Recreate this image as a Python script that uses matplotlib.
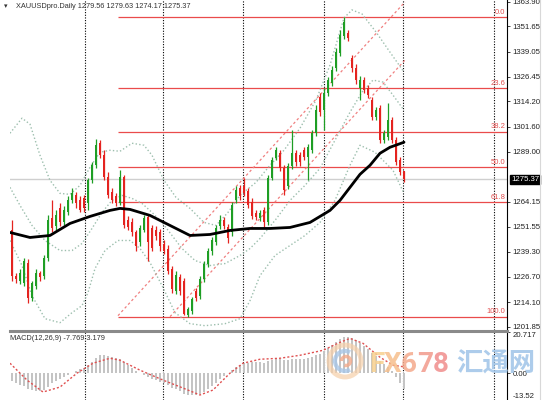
import numpy as np
import matplotlib.pyplot as plt
from matplotlib.lines import Line2D
from matplotlib.patches import Circle, Arc

plt.rcParams['font.family'] = ['Liberation Sans', 'DejaVu Sans']

# daily candles (XAUUSD)
opens = [1249.8, 1227.3, 1224.8, 1223.8, 1233.8, 1216.3, 1222.3, 1228.8, 1227.3, 1236.3,
         1255.8, 1251.8, 1260.8, 1253.8, 1258.8, 1264.8, 1267.3, 1264.8, 1265.8, 1263.3,
         1274.8, 1282.3, 1293.3, 1287.3, 1276.3, 1268.8, 1266.8, 1263.3, 1276.3, 1254.8,
         1253.8, 1248.8, 1243.8, 1249.8, 1256.3, 1250.8, 1249.8, 1248.8, 1242.8, 1240.8,
         1230.8, 1219.8, 1226.8, 1224.8, 1207.8, 1209.8, 1219.8, 1217.3, 1225.8, 1233.3,
         1239.8, 1243.8, 1251.8, 1254.8, 1251.3, 1248.8, 1264.8, 1270.8, 1271.8, 1269.3,
         1263.8, 1258.3, 1255.8, 1259.8, 1253.8, 1275.8, 1285.8, 1288.3, 1280.8, 1271.8,
         1281.8, 1288.3, 1287.3, 1289.8, 1286.3, 1289.8, 1298.3, 1316.3, 1309.8, 1318.3,
         1323.3, 1330.8, 1338.3, 1346.8, 1348.3, 1335.8, 1330.8, 1320.8, 1324.8, 1320.8,
         1314.8, 1306.3, 1310.8, 1294.8, 1296.3, 1304.8, 1294.8, 1284.8, 1279.56]
highs = [1254.8, 1228.8, 1230.8, 1236.3, 1235.8, 1224.8, 1230.8, 1229.8, 1237.8, 1257.3,
         1264.8, 1259.8, 1263.3, 1261.8, 1266.8, 1270.8, 1268.8, 1266.8, 1267.3, 1275.8,
         1283.8, 1295.3, 1294.8, 1289.8, 1278.8, 1270.8, 1268.3, 1279.8, 1277.3, 1256.8,
         1255.8, 1249.8, 1252.3, 1257.3, 1257.8, 1252.3, 1251.8, 1250.3, 1244.8, 1242.3,
         1232.3, 1229.8, 1228.3, 1226.3, 1211.8, 1216.8, 1221.3, 1227.3, 1234.8, 1241.3,
         1246.3, 1252.3, 1257.3, 1256.3, 1252.8, 1263.8, 1271.8, 1272.3, 1275.8, 1270.8,
         1265.8, 1259.8, 1259.8, 1261.3, 1277.3, 1286.3, 1291.3, 1289.8, 1282.3, 1283.3,
         1299.8, 1289.8, 1288.8, 1291.3, 1292.8, 1299.8, 1312.3, 1318.3, 1320.8, 1326.3,
         1331.8, 1340.8, 1349.8, 1356.3, 1349.8, 1337.3, 1332.8, 1326.8, 1326.3, 1322.3,
         1316.3, 1311.3, 1312.3, 1299.8, 1313.3, 1306.3, 1296.3, 1286.3, 1279.63]
lows = [1224.8, 1223.8, 1223.3, 1222.3, 1213.8, 1214.8, 1220.8, 1224.8, 1225.8, 1234.8,
        1248.8, 1249.8, 1251.8, 1252.3, 1257.3, 1263.3, 1260.8, 1258.8, 1258.8, 1259.8,
        1273.3, 1280.8, 1285.8, 1274.8, 1265.8, 1263.3, 1261.8, 1262.3, 1250.8, 1249.8,
        1246.8, 1239.8, 1241.8, 1248.8, 1234.8, 1239.8, 1244.8, 1239.8, 1238.3, 1228.3,
        1218.8, 1218.3, 1217.8, 1207.5, 1206.8, 1208.3, 1214.8, 1215.8, 1224.3, 1231.8,
        1237.8, 1242.3, 1250.3, 1250.3, 1243.3, 1246.8, 1263.3, 1264.8, 1266.8, 1260.8,
        1255.3, 1254.8, 1254.3, 1251.3, 1252.3, 1274.8, 1284.8, 1279.3, 1267.3, 1270.3,
        1280.3, 1281.8, 1281.8, 1284.8, 1274.8, 1288.3, 1296.8, 1306.8, 1299.8, 1316.8,
        1321.8, 1329.3, 1336.8, 1345.3, 1344.3, 1328.8, 1322.8, 1314.8, 1318.3, 1315.8,
        1304.8, 1304.8, 1293.3, 1293.3, 1294.8, 1293.3, 1282.3, 1277.3, 1274.17]
closes = [1227.3, 1225.8, 1228.8, 1234.8, 1216.3, 1223.8, 1228.8, 1226.8, 1236.3, 1254.8,
          1250.8, 1257.3, 1253.8, 1259.8, 1264.8, 1268.3, 1263.3, 1259.8, 1260.8, 1274.8,
          1282.3, 1292.3, 1287.3, 1276.3, 1267.3, 1264.8, 1263.3, 1276.3, 1252.3, 1251.3,
          1248.8, 1241.8, 1250.8, 1255.8, 1243.8, 1241.3, 1246.8, 1241.8, 1239.8, 1229.8,
          1220.8, 1227.8, 1219.8, 1208.3, 1210.8, 1215.8, 1216.3, 1225.8, 1233.3, 1239.8,
          1244.8, 1250.8, 1254.8, 1251.8, 1245.8, 1262.3, 1269.8, 1266.8, 1268.3, 1262.3,
          1256.8, 1256.3, 1258.3, 1253.8, 1275.8, 1284.8, 1289.8, 1280.8, 1269.8, 1281.8,
          1288.3, 1283.8, 1283.8, 1286.3, 1291.3, 1298.3, 1309.8, 1308.8, 1318.3, 1324.8,
          1329.8, 1338.8, 1347.3, 1353.8, 1345.8, 1330.8, 1324.8, 1324.8, 1319.8, 1317.3,
          1306.3, 1309.8, 1294.8, 1298.3, 1304.8, 1294.8, 1283.8, 1278.8, 1275.37]

# moving average (black), sampled along the curve: bar index -> price
ma_x = [-0.5, 4.5, 9.5, 14.5, 19.5, 24.5, 27, 29.5, 34.5, 39.5, 44.5, 49.5, 54.5,
        59.5, 64.5, 69.5, 74.5, 79.5, 82, 84.5, 87, 89.5, 92, 94.5, 98]
ma_y = [1248.8, 1246.3, 1247.3, 1253.3, 1256.8, 1259.8, 1260.8, 1260.3, 1257.3, 1252.3,
        1247.3, 1247.8, 1249.8, 1250.8, 1250.8, 1251.3, 1253.8, 1259.8, 1264.8, 1271.3,
        1277.8, 1282.3, 1288.3, 1291.3, 1293.8]

# bollinger bands (dotted)
bb_up_x = [-0.5, 2.5, 4.5, 7, 9.5, 12, 14.5, 17, 19.5, 22, 24.5, 27, 30, 33, 35, 38, 41,
           44.5, 48, 51, 54, 57, 61, 64.5, 68, 72, 76, 79.5, 83, 85, 87.5, 91, 95, 98]
bb_up_y = [1298.3, 1305.8, 1302.8, 1287.3, 1274.8, 1268.3, 1267.8, 1272.3, 1281.3, 1288.8,
           1289.8, 1289.3, 1293.3, 1292.3, 1287.3, 1274.8, 1266.3, 1260.8, 1253.8, 1252.3,
           1258.8, 1267.3, 1273.8, 1282.3, 1289.8, 1300.8, 1314.8, 1332.3, 1355.8, 1359.8,
           1357.8, 1348.8, 1337.3, 1328.8]
bb_mid_x = [-0.5, 2, 5, 8.25, 12, 15, 17.5, 20, 22.5, 25, 27.5, 30, 32.5, 35, 37.5, 40,
            42.5, 45.75, 49.5, 53.25, 57, 59.5, 62, 65.75, 69.5, 73.25, 77, 80.75, 84.5,
            87.5, 90.25, 92.75, 95.25, 98]
bb_mid_y = [1271.3, 1262.3, 1252.3, 1244.8, 1239.8, 1239.8, 1243.3, 1250.8, 1258.8, 1264.8,
            1267.3, 1265.8, 1263.3, 1258.8, 1253.8, 1247.3, 1240.8, 1234.8, 1232.3, 1233.3,
            1237.3, 1240.8, 1245.8, 1254.8, 1264.8, 1272.3, 1280.8, 1294.8, 1308.8, 1318.8,
            1324.8, 1323.8, 1317.3, 1309.8]
bb_low_x = [-0.5, 2.5, 5, 8.25, 12, 15, 17.5, 19, 20.75, 23.25, 26.5, 29.5, 32, 34.5, 37.5,
            40.75, 44.5, 48.25, 53.25, 57, 59.5, 62, 65.75, 69.5, 73.25, 77, 80.75, 84.5,
            87, 90.75, 95.25, 98]
bb_low_y = [1244.8, 1232.3, 1217.3, 1205.8, 1203.8, 1208.8, 1212.3, 1218.8, 1230.8, 1239.8,
            1244.8, 1244.8, 1240.8, 1233.8, 1222.3, 1208.8, 1203.3, 1202.3, 1203.3, 1205.8,
            1214.8, 1227.3, 1237.3, 1242.3, 1247.3, 1253.8, 1264.8, 1282.3, 1292.3, 1288.8,
            1279.8, 1268.3]

# rising channel (red dashed), end points
chan_a_x = [26.5, 98.25]
chan_a_y = [1207.3, 1363.8]
chan_b_x = [39.5, 98.25]
chan_b_y = [1206.8, 1334.8]

# fibonacci retracement
fib_names = ['0.0', '23.6', '38.2', '50.0', '61.8', '100.0']
fib_prices = [1356.3, 1321.0, 1299.1, 1281.5, 1263.9, 1206.8]

price_ticks = [1363.90, 1351.65, 1339.05, 1326.45, 1314.20, 1301.60, 1289.00,
               1264.15, 1251.55, 1239.30, 1226.70, 1214.10, 1201.85]
last_price = 1275.37
separators = [18.25, 37.75, 57.75, 78, 97.75, 120.5]

# MACD(12,26,9)
macd_hist = [-4, -5, -6, -6.5, -8, -8.5, -9, -9, -8.5, -7,
             -5, -4, -3, -2, -1, 0, 1, 2, 2.5, 4,
             5.5, 7.5, 9, 9, 8.5, 8, 7.5, 7, 5.5, 4,
             2.5, 1, 0, -1, -2, -3, -3.5, -4.5, -5, -6,
             -7.5, -8, -9, -10.5, -11, -11, -11, -10.5, -9.5, -8,
             -6.5, -5, -3, -1.5, 0, 1.5, 3, 4, 5, 5,
             5.5, 5.5, 5.5, 5, 6, 6.5, 7, 7, 6.5, 6.5,
             7, 7, 7, 7, 7.5, 8, 9, 9.5, 11, 12.5,
             14, 15.5, 17, 18, 18, 17.5, 16.5, 15, 13.5, 12,
             10, 8.5, 6, 4.5, 3, 1, -2, -5, -7.769]
sig_x = [-0.5, 3.75, 7.75, 12, 16.25, 20.25, 24.5, 27, 32, 37.75, 42.75, 47, 50.25,
         54.5, 57.75, 62, 67, 72, 77.75, 82, 84.5, 87.75, 92, 95.25, 98]
sig_y = [5.0, -3.5, -9.5, -7.0, 0, 5.0, 7.5, 6.5, 1.5, -3.5, -7.5, -11, -8.5,
         0, 5, 7, 7.5, 9, 11.5, 15.5, 17.5, 15, 8, 4, 3.179]

W, H = 554, 400
fig = plt.figure(figsize=(W / 100, H / 100), dpi=100)
ax = fig.add_axes([10 / W, 1 - 330 / H, 497 / W, 330 / H])
axm = fig.add_axes([10 / W, 0, 497 / W, 68 / H])

for a in (ax, axm):
    a.set_xlim(-0.5, 123.75)
    for s in ('top', 'left', 'bottom'):
        a.spines[s].set_visible(False)
    a.spines['right'].set_linewidth(0.8)
    a.set_xticks([])
    a.yaxis.tick_right()
    a.tick_params(axis='y', length=2.5, width=0.6, pad=1.5, labelsize=5.6, colors='#222222')
    for sx in separators:
        a.axvline(sx, color='black', lw=0.8, ls=(0, (1, 1.4)), zorder=2)

ax.set_ylim(1200.15, 1364.75)
ax.set_yticks(price_ticks)
ax.set_yticklabels(['%.2f' % v for v in price_ticks])

# current price line and tag
ax.axhline(last_price, color='#cfcfcf', lw=1, zorder=1)
ax.text(1.008, last_price, '%.2f' % last_price, transform=ax.get_yaxis_transform(),
        ha='left', va='center', fontsize=5.6, color='white',
        bbox=dict(boxstyle='square,pad=0.15', fc='black', ec='black'))

# fibonacci
ax.hlines(fib_prices, 26.5, 123.75, colors='#ea4b4b', lw=0.9, zorder=2)
for name, p in zip(fib_names, fib_prices):
    ax.text(123.4, p + 0.6, name, ha='right', va='bottom', fontsize=5.5, color='#e25050')

# channel and bands
ax.plot(chan_a_x, chan_a_y, color='#f08080', lw=0.9, ls=(0, (2, 2)), zorder=2)
ax.plot(chan_b_x, chan_b_y, color='#f08080', lw=0.9, ls=(0, (2, 2)), zorder=2)
for bx, by in ((bb_up_x, bb_up_y), (bb_mid_x, bb_mid_y), (bb_low_x, bb_low_y)):
    ax.plot(bx, by, color='#9dbfae', lw=1.0, ls=(0, (1, 1.6)), zorder=2)

# candles
idx = np.arange(len(closes))
o, h, l, c = map(np.array, (opens, highs, lows, closes))
cols = np.where(c >= o, '#1e9e24', '#e4231f')
ax.vlines(idx, l, h, colors=cols, lw=0.9, zorder=3)
ax.bar(idx, np.maximum(np.abs(c - o), 0.4), bottom=np.minimum(o, c), width=0.62,
       color=cols, linewidth=0, zorder=4)

ax.plot(ma_x, ma_y, color='black', lw=2, solid_capstyle='round', zorder=5)

# MACD panel
axm.set_ylim(-13.52, 20.717)
axm.bar(idx, macd_hist, width=0.5, color='#c4c4c4', linewidth=0, zorder=2)
axm.plot(sig_x, sig_y, color='#e05050', lw=1.0, ls=(0, (1.5, 1.5)), zorder=3)
axm.set_yticks([20.717, 0, -13.52])
axm.set_yticklabels(['20.717', '0.00', '-13.52'])
tl = axm.get_yticklabels()
tl[0].set_verticalalignment('top')
tl[2].set_verticalalignment('bottom')

fig.add_artist(Line2D([10 / W, 507 / W], [1 - 330.5 / H] * 2, color='#8a8a8a', lw=2.2))
fig.add_artist(Line2D([540 / W, 540 / W], [0, 1], color='#d8d8d8', lw=0.8))

fig.text(4 / W, 1 - 6 / H, '\u25be', fontsize=5, color='#333333', va='center',
         family=['DejaVu Sans'])
fig.text(16 / W, 1 - 6 / H, 'XAUUSDpro.Daily 1279.56 1279.63 1274.17 1275.37',
         fontsize=5.3, color='#333333', va='center')
fig.text(10 / W, 1 - 339 / H, 'MACD(12,26,9) -7.769 3.179', fontsize=5.3,
         color='#333333', va='center')

# watermark (semi-transparent, over the MACD panel)
wax = fig.add_axes([0, 0, 1, 1], zorder=10)
wax.set_xlim(0, W)
wax.set_ylim(H, 0)
wax.axis('off')
wax.patch.set_alpha(0)
wax.add_patch(Circle((345, 361), 16, fill=False, ec='#f6cfa8', lw=3.5, alpha=0.7))
wax.add_patch(Arc((345, 361), 20, 20, theta1=60, theta2=300, ec='#a8c6e6', lw=3, alpha=0.8))
wax.add_patch(Arc((346, 361), 9, 9, theta1=180, theta2=470, ec='#f3a98a', lw=2.5, alpha=0.8))
for ch, xx, col in zip('FX678', [369, 384, 401, 417, 433],
                       ['#f7d08e', '#f6bf8c', '#f4aa8c', '#f29a8c', '#f08d8c']):
    wax.text(xx, 364, ch, fontsize=20, fontweight='bold', color=col, alpha=0.85,
             va='center', ha='left', family=['Roboto', 'DejaVu Sans'])
wax.text(456, 364, '汇通网', fontsize=19, fontweight='bold', color='#9fc4e8', alpha=0.85,
         va='center', ha='left', family=['Noto Sans CJK SC'])

fig.savefig('out.png', dpi=100)
